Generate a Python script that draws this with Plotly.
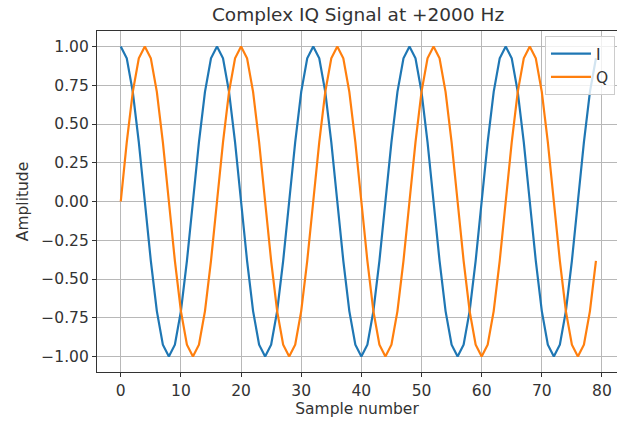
import plotly.graph_objects as go

sample_number = list(range(80))

i_values = [
    1.000, 0.924, 0.707, 0.383, 0.000, -0.383, -0.707, -0.924,
    -1.000, -0.924, -0.707, -0.383, 0.000, 0.383, 0.707, 0.924,
    1.000, 0.924, 0.707, 0.383, 0.000, -0.383, -0.707, -0.924,
    -1.000, -0.924, -0.707, -0.383, 0.000, 0.383, 0.707, 0.924,
    1.000, 0.924, 0.707, 0.383, 0.000, -0.383, -0.707, -0.924,
    -1.000, -0.924, -0.707, -0.383, 0.000, 0.383, 0.707, 0.924,
    1.000, 0.924, 0.707, 0.383, 0.000, -0.383, -0.707, -0.924,
    -1.000, -0.924, -0.707, -0.383, 0.000, 0.383, 0.707, 0.924,
    1.000, 0.924, 0.707, 0.383, 0.000, -0.383, -0.707, -0.924,
    -1.000, -0.924, -0.707, -0.383, 0.000, 0.383, 0.707, 0.924,
]

q_values = [
    0.000, 0.383, 0.707, 0.924, 1.000, 0.924, 0.707, 0.383,
    0.000, -0.383, -0.707, -0.924, -1.000, -0.924, -0.707, -0.383,
    0.000, 0.383, 0.707, 0.924, 1.000, 0.924, 0.707, 0.383,
    0.000, -0.383, -0.707, -0.924, -1.000, -0.924, -0.707, -0.383,
    0.000, 0.383, 0.707, 0.924, 1.000, 0.924, 0.707, 0.383,
    0.000, -0.383, -0.707, -0.924, -1.000, -0.924, -0.707, -0.383,
    0.000, 0.383, 0.707, 0.924, 1.000, 0.924, 0.707, 0.383,
    0.000, -0.383, -0.707, -0.924, -1.000, -0.924, -0.707, -0.383,
    0.000, 0.383, 0.707, 0.924, 1.000, 0.924, 0.707, 0.383,
    0.000, -0.383, -0.707, -0.924, -1.000, -0.924, -0.707, -0.383,
]

x_tick_vals = [0, 10, 20, 30, 40, 50, 60, 70, 80]
x_tick_text = ["0", "10", "20", "30", "40", "50", "60", "70", "80"]
y_tick_vals = [-1.0, -0.75, -0.5, -0.25, 0.0, 0.25, 0.5, 0.75, 1.0]
y_tick_text = ["\u22121.00", "\u22120.75", "\u22120.50", "\u22120.25", "0.00",
               "0.25", "0.50", "0.75", "1.00"]

FONT = "DejaVu Sans"
TXT = "#333333"
FS = 15.5

fig = go.Figure()
fig.add_trace(go.Scatter(x=sample_number, y=i_values, mode="lines", name="I",
                         line=dict(color="#1f77b4", width=2.2)))
fig.add_trace(go.Scatter(x=sample_number, y=q_values, mode="lines", name="Q",
                         line=dict(color="#ff7f0e", width=2.2)))

fig.update_layout(
    width=617, height=422,
    margin=dict(l=97, r=0, t=31, b=50),
    paper_bgcolor="white", plot_bgcolor="white",
    font=dict(family=FONT, size=FS, color=TXT),
    title=dict(text="Complex IQ Signal at +2000 Hz", x=0.502, xref="paper",
               xanchor="center", y=1 - 15 / 422, yref="container", yanchor="middle",
               font=dict(size=18.5, family=FONT, color=TXT)),
    xaxis=dict(range=[-3.95, 82.5], tickvals=x_tick_vals, ticktext=x_tick_text,
               showgrid=True, gridcolor="#b8b8b8", gridwidth=1,
               zeroline=False, showline=True, linecolor="#333333", linewidth=1.2,
               mirror=True, ticks="outside", ticklen=4, tickcolor="#333333",
               tickfont=dict(size=FS, family=FONT, color=TXT),
               title=dict(text="Sample number", standoff=2,
                          font=dict(size=FS, family=FONT, color=TXT))),
    yaxis=dict(range=[-1.1, 1.1], tickvals=y_tick_vals, ticktext=y_tick_text,
               showgrid=True, gridcolor="#b8b8b8", gridwidth=1,
               zeroline=False, showline=True, linecolor="#333333", linewidth=1.2,
               ticks="outside", ticklen=4, tickcolor="#333333",
               tickfont=dict(size=FS, family=FONT, color=TXT),
               title=dict(text="Amplitude", standoff=8,
                          font=dict(size=FS, family=FONT, color=TXT))),
    legend=dict(x=0.8615, xanchor="left", y=0.985, yanchor="top",
                bgcolor="rgba(255,255,255,0.8)", bordercolor="#cccccc", borderwidth=1,
                itemwidth=40,
                font=dict(size=FS, family=FONT, color=TXT)),
    showlegend=True,
)

fig.write_html("out.html")
